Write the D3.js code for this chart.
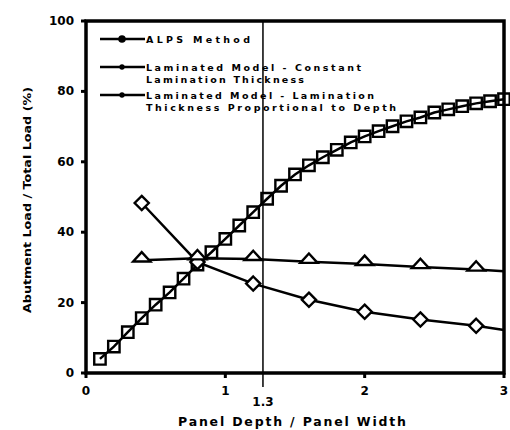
<!DOCTYPE html>
<html>
<head>
<meta charset="utf-8">
<script src="https://cdn.jsdelivr.net/npm/d3@7"></script>
<style>
  body { margin: 0; background: #fff; }
  text { font-family: "DejaVu Sans", "Liberation Sans", Arial, sans-serif; font-weight: bold; fill: #000; }
</style>
</head>
<body>
<svg id="chart" width="510" height="430"></svg>
<script>
/* ALPS method, every 0.1 */
var alpsX = [0.1, 0.2, 0.3, 0.4, 0.5, 0.6, 0.7, 0.8, 0.9, 1.0,
             1.1, 1.2, 1.3, 1.4, 1.5, 1.6, 1.7, 1.8, 1.9, 2.0,
             2.1, 2.2, 2.3, 2.4, 2.5, 2.6, 2.7, 2.8, 2.9, 3.0];
var alpsY = [4.0, 7.5, 11.6, 15.6, 19.4, 22.9, 26.8, 30.8, 34.3, 38.1,
             41.9, 45.7, 49.5, 53.2, 56.4, 59.0, 61.3, 63.4, 65.5, 67.2,
             68.7, 70.1, 71.5, 72.6, 74.0, 74.9, 75.8, 76.6, 77.2, 77.8];

/* laminated model, constant lamination thickness */
var constX = [0.4, 0.8, 1.2, 1.6, 2.0, 2.4, 2.8, 3.0];
var constY = [48.3, 31.5, 25.4, 20.8, 17.4, 15.2, 13.4, 12.2];

/* laminated model, thickness proportional to depth */
var propX = [0.4, 0.8, 1.2, 1.6, 2.0, 2.4, 2.8, 3.0];
var propY = [32.0, 32.6, 32.4, 31.6, 31.0, 30.1, 29.4, 28.9];

var xTicks = [0, 1, 2, 3];
var yTicks = [0, 20, 40, 60, 80, 100];
var markLine = 1.27, markLabel = '1.3';

var legendNames = [
    ['ALPS Method'],
    ['Laminated Model - Constant', 'Lamination Thickness'],
    ['Laminated Model - Lamination', 'Thickness Proportional to Depth']
];

function pairs(xs, ys) {
    var out = [];
    for (var i = 0; i < xs.length; i++) {
        out.push({x: xs[i], y: ys[i]});
    }
    return out;
}

var svg = d3.select('#chart');
var x = d3.scaleLinear().domain([0, 3]).range([86, 504]),
    y = d3.scaleLinear().domain([0, 100]).range([373, 21]);

var line = d3.line()
             .x(function (d) { return x(d.x); })
             .y(function (d) { return y(d.y); });

/* frame */
svg.append('rect')
   .attr('x', x(0)).attr('y', y(100))
   .attr('width', x(3) - x(0)).attr('height', y(0) - y(100))
   .attr('fill', 'none').attr('stroke', '#000').attr('stroke-width', 3.5);

/* ticks */
svg.selectAll('.xt').data(xTicks).enter().append('line')
   .attr('x1', function (d) { return x(d); }).attr('x2', function (d) { return x(d); })
   .attr('y1', y(0)).attr('y2', y(0) + 5)
   .attr('stroke', '#000').attr('stroke-width', 3);
svg.selectAll('.xl').data(xTicks).enter().append('text')
   .attr('x', function (d) { return x(d); }).attr('y', y(0) + 22)
   .attr('text-anchor', 'middle').attr('font-size', 12)
   .text(function (d) { return d; });

svg.selectAll('.yt').data(yTicks).enter().append('line')
   .attr('x1', x(0) - 5).attr('x2', x(0))
   .attr('y1', function (d) { return y(d); }).attr('y2', function (d) { return y(d); })
   .attr('stroke', '#000').attr('stroke-width', 3);
svg.selectAll('.yl').data(yTicks).enter().append('text')
   .attr('x', x(0) - 12).attr('y', function (d) { return y(d) + 4; })
   .attr('text-anchor', 'end').attr('font-size', 12)
   .text(function (d) { return d; });

/* 1.3 marker line */
svg.append('line')
   .attr('x1', x(markLine)).attr('x2', x(markLine))
   .attr('y1', y(100)).attr('y2', y(0) + 14)
   .attr('stroke', '#000').attr('stroke-width', 1.5);
svg.append('text')
   .attr('x', x(markLine)).attr('y', y(0) + 33)
   .attr('text-anchor', 'middle').attr('font-size', 12)
   .text(markLabel);

/* axis titles */
svg.append('text')
   .attr('x', 292).attr('y', 426)
   .attr('text-anchor', 'middle').attr('font-size', 12.5)
   .attr('textLength', 228).attr('lengthAdjust', 'spacing')
   .text('Panel Depth / Panel Width');
svg.append('text')
   .attr('transform', 'translate(31,200) rotate(-90)')
   .attr('text-anchor', 'middle').attr('font-size', 11)
   .attr('textLength', 226).attr('lengthAdjust', 'spacingAndGlyphs')
   .text('Abutment Load / Total Load (%)');

/* markers: square, square turned 45deg, flattened triangle */
var shapes = {
    square:   {d: d3.symbol().type(d3.symbolSquare).size(130)(),   t: ''},
    diamond:  {d: d3.symbol().type(d3.symbolSquare).size(100)(),   t: ' rotate(45)'},
    triangle: {d: d3.symbol().type(d3.symbolTriangle).size(70)(),  t: ' translate(0,-2) scale(1.35,0.85)'}
};

var series = [
    {data: pairs(alpsX, alpsY),   shape: 'square'},
    {data: pairs(constX, constY), shape: 'diamond'},
    {data: pairs(propX, propY),   shape: 'triangle'}
];

series.forEach(function (s) {
    svg.append('path')
       .attr('d', line(s.data))
       .attr('fill', 'none').attr('stroke', '#000').attr('stroke-width', 2.5);
});

series.forEach(function (s) {
    var sh = shapes[s.shape];
    svg.selectAll('.m-' + s.shape)
       .data(s.data.filter(function (d) { return s.shape == 'square' || d.x < 2.95; }))
       .enter().append('path')
       .attr('transform', function (d) {
           return 'translate(' + x(d.x) + ',' + y(d.y) + ')' + sh.t;
       })
       .attr('d', sh.d)
       .attr('fill', s.shape == 'square' ? 'none' : '#fff')
       .attr('stroke', '#000').attr('stroke-width', 2.4)
       .attr('vector-effect', 'non-scaling-stroke');
});

/* legend */
var legRows = [39, 67, 95];
var legWidths = [[104], [215, 158], [228, 250]];
for (var i = 0; i < legendNames.length; i++) {
    svg.append('line')
       .attr('x1', 100).attr('x2', 145)
       .attr('y1', legRows[i]).attr('y2', legRows[i])
       .attr('stroke', '#000').attr('stroke-width', 2.5);
    svg.append('path')
       .attr('transform', 'translate(122,' + legRows[i] + ')')
       .attr('d', d3.symbol().type(d3.symbolCircle).size(i == 0 ? 45 : 22)())
       .attr('fill', '#000');
    for (var j = 0; j < legendNames[i].length; j++) {
        svg.append('text')
           .attr('x', 146).attr('y', legRows[i] + 4 + j * 11.5)
           .attr('font-size', 9.5)
           .attr('textLength', legWidths[i][j]).attr('lengthAdjust', 'spacing')
           .text(legendNames[i][j]);
    }
}
</script>
</body>
</html>
